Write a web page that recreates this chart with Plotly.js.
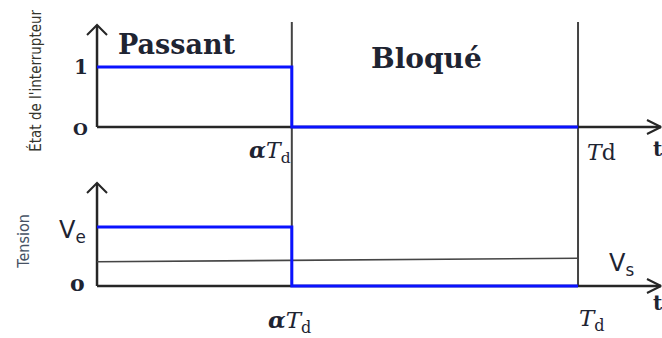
<!DOCTYPE html>
<html>
<head>
<meta charset="utf-8">
<script src="https://cdn.plot.ly/plotly-3.0.1.min.js"></script>
<style>html,body{margin:0;padding:0;background:#fff;}#chart{width:662px;height:338px;}</style>
</head>
<body>
<div id="chart"></div>
<script>
// ---- data ----
const periodT = 1;
const alpha = 0.405;
const tSwitch = [0, alpha, alpha, periodT];
const switchState = [1, 1, 0, 0];          // 1 = Passant, 0 = Bloqué
const tVoltage = [0, alpha, alpha, periodT];
const voltage = [1, 1, 0, 0];               // Ve during on-time, 0 otherwise
const tVs = [0, periodT];
const vsLevel = [0.41, 0.47];               // output voltage Vs (normalised to Ve)
const stateTickVals = [0, 1];
const stateTickText = ['O', '1'];
const voltTickVals = [0, 1];
const voltTickText = ['o', 'V<sub>e</sub>'];

// ---- axes geometry (data ranges) ----
const xRange = [-0.2017, 1.1746];
const yTopRange = [-0.7, 2.1167];
const yBotRange = [-0.8814, 1.983];
const W = 662, H = 338;
const kx = W / (xRange[1] - xRange[0]);
const kyTop = (H / 2) / (yTopRange[1] - yTopRange[0]);
const kyBot = (H / 2) / (yBotRange[1] - yBotRange[0]);
const xEnd = xRange[1] - 1 / kx;
const yTopAxisEnd = 1.7, yBotAxisEnd = 1.746;

function paperFromBot(v) { return 0.5 * (v - yBotRange[0]) / (yBotRange[1] - yBotRange[0]); }

const axisCol = '#262626';
const blue = '#0a12ff';
function line(x, y, ya, color, width) {
  return {x: x, y: y, yaxis: ya, type: 'scatter', mode: 'lines', hoverinfo: 'skip',
          line: {color: color, width: width}, showlegend: false};
}
function chevronUp(ya, tip, ky) {
  return line([-10 / kx, 0, 10 / kx], [tip - 10 / ky, tip, tip - 10 / ky], ya, axisCol, 2);
}
function chevronRight(ya, tip, ky) {
  return line([tip - 14 / kx, tip, tip - 14 / kx], [7 / ky, 0, -7 / ky], ya, axisCol, 2);
}

const traces = [
  // top axes
  line([0, 0], [yTopAxisEnd, 0], 'y', axisCol, 2.5),
  line([0, xEnd], [0, 0], 'y', axisCol, 2.5),
  chevronUp('y', yTopAxisEnd, kyTop),
  chevronRight('y', xEnd, kyTop),
  // bottom axes
  line([0, 0], [yBotAxisEnd, 0], 'y2', axisCol, 2.5),
  line([0, xEnd], [0, 0], 'y2', axisCol, 2.5),
  chevronUp('y2', yBotAxisEnd, kyBot),
  chevronRight('y2', xEnd, kyBot),
  // Vs
  line(tVs, vsLevel, 'y2', '#454545', 1.6),
  // signals
  line(tSwitch, switchState, 'y', blue, 3),
  line(tVoltage, voltage, 'y2', blue, 3)
];

const vLineTop = 1 - 22 / H;
const shapes = [alpha, periodT].map(xv => ({
  type: 'line', xref: 'x', yref: 'paper', x0: xv, x1: xv,
  y0: paperFromBot(0), y1: vLineTop, line: {color: '#444', width: 2}, layer: 'below'
}));

const serif = 'DejaVu Serif, Liberation Serif, serif';
const sans = 'DejaVu Sans, Liberation Sans, sans-serif';
const narrow = 'DejaVu Sans Condensed, Liberation Sans Narrow, sans-serif';
const txtCol = '#1e2432';
function ann(text, x, y, yref, size, family, extra) {
  return Object.assign({text: text, x: x, y: y, xref: 'x', yref: yref, showarrow: false,
    font: {size: size, family: family, color: txtCol}, xanchor: 'center', yanchor: 'middle'}, extra || {});
}

const annotations = [
  ann('<b>Passant</b>', 0.167, 1.37, 'y', 27, serif),
  ann('<b>Bloqué</b>', 0.684, 1.15, 'y', 28, serif),
  ann('<b>' + stateTickText[1] + '</b>', -0.034, stateTickVals[1], 'y', 20, serif),
  ann('<b>' + stateTickText[0] + '</b>', -0.034, stateTickVals[0] - 0.04, 'y', 17, serif),
  ann('<b><i>α</i></b><i>T</i><sub>d</sub>', 0.36, -0.42, 'y', 22, serif),
  ann('<i>T</i>d', 1.048, -0.43, 'y', 22, serif),
  ann('<b>t</b>', 1.166, -0.36, 'y', 20, serif),
  ann(voltTickText[1], -0.05, 0.92, 'y2', 24, sans),
  ann('<b>' + voltTickText[0] + '</b>', -0.04, voltTickVals[0] + 0.05, 'y2', 22, serif),
  ann('<b><i>α</i></b><i>T</i><sub>d</sub>', 0.40, -0.6, 'y2', 23, serif),
  ann('<i>T</i><sub>d</sub>', 1.03, -0.57, 'y2', 23, serif),
  ann('V<sub>s</sub>', 1.09, 0.36, 'y2', 24, sans),
  ann('<b>t</b>', 1.167, -0.29, 'y2', 20, serif),
  ann('État de l\'interrupteur', -0.127, 0.77, 'y', 15, narrow, {textangle: -90}),
  ann('Tension', -0.152, 0.75, 'y2', 16, narrow, {textangle: -90})
];
annotations[13].font.color = '#34342c';
annotations[14].font.color = '#465264';

const layout = {
  width: W, height: H,
  margin: {l: 0, r: 0, t: 0, b: 0},
  paper_bgcolor: '#fff', plot_bgcolor: '#fff',
  showlegend: false,
  xaxis: {range: xRange, visible: false, fixedrange: true},
  yaxis: {range: yTopRange, domain: [0.5, 1], visible: false, fixedrange: true},
  yaxis2: {range: yBotRange, domain: [0, 0.5], visible: false, fixedrange: true, anchor: 'x'},
  shapes: shapes,
  annotations: annotations
};

Plotly.newPlot('chart', traces, layout, {staticPlot: true, displayModeBar: false});
</script>
</body>
</html>
